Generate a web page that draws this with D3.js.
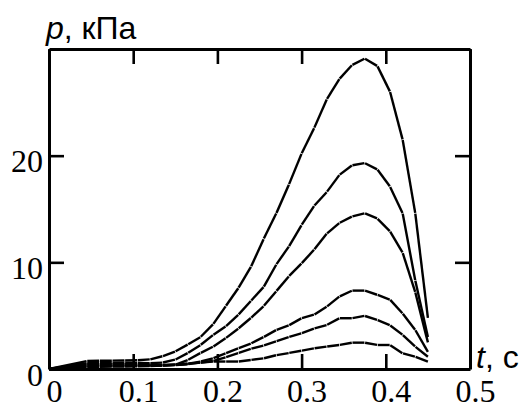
<!DOCTYPE html>
<html><head><meta charset="utf-8">
<script src="https://cdn.jsdelivr.net/npm/d3@7"></script>
<style>
html,body{margin:0;padding:0;background:#fff;}
svg{display:block;}
</style></head>
<body>
<svg id="c" width="528" height="410"></svg>
<script>
// time grid, s
const times = [0, 0.045, 0.06, 0.075, 0.09, 0.105, 0.12, 0.135, 0.15, 0.165, 0.18, 0.195, 0.21, 0.225, 0.24, 0.255, 0.27, 0.285, 0.30, 0.315, 0.33, 0.345, 0.36, 0.375, 0.39, 0.405, 0.42, 0.435, 0.45];
// pressure, kPa
const curve1 = [0, 0.75, 0.77, 0.78, 0.8, 0.82, 0.9, 1.2, 1.65, 2.3, 3.0, 4.2, 5.9, 7.6, 9.6, 12.2, 14.6, 17.3, 20.2, 22.6, 25.3, 27.2, 28.5, 29.1, 28.4, 26.0, 21.5, 14.6, 4.8];
const curve2 = [0, 0.55, 0.56, 0.57, 0.57, 0.57, 0.55, 0.6, 0.88, 1.5, 2.25, 3.2, 4.0, 5.1, 6.4, 7.7, 9.8, 11.5, 13.5, 15.3, 16.6, 18.2, 19.1, 19.3, 18.7, 17.1, 14.6, 8.3, 3.0];
const curve3 = [0, 0.45, 0.45, 0.45, 0.44, 0.43, 0.4, 0.36, 0.4, 0.85, 1.5, 2.1, 2.9, 3.8, 4.8, 5.9, 7.3, 8.7, 9.9, 11.2, 12.7, 13.7, 14.3, 14.6, 14.1, 12.9, 10.9, 7.2, 2.5];
const curve4 = [0, 0.35, 0.36, 0.37, 0.37, 0.37, 0.37, 0.38, 0.4, 0.5, 0.7, 1.0, 1.47, 1.95, 2.4, 3.0, 3.66, 4.1, 4.76, 5.1, 5.85, 6.8, 7.35, 7.35, 6.95, 6.5, 5.2, 3.66, 1.6];
const curve5 = [0, 0.25, 0.26, 0.27, 0.28, 0.29, 0.3, 0.32, 0.36, 0.45, 0.6, 0.75, 1.1, 1.5, 1.9, 2.2, 2.6, 3.0, 3.35, 3.8, 4.13, 4.76, 4.76, 4.98, 4.6, 4.1, 3.2, 2.1, 1.15];
const curve6 = [0, 0.2, 0.21, 0.22, 0.23, 0.25, 0.28, 0.33, 0.4, 0.5, 0.6, 0.7, 0.7, 0.7, 0.85, 1.0, 1.3, 1.5, 1.72, 1.94, 2.1, 2.25, 2.47, 2.47, 2.25, 2.25, 1.47, 1.15, 0.7];
const seriesList = [curve1, curve2, curve3, curve4, curve5, curve6];
const xTicks = [0, 0.1, 0.2, 0.3, 0.4, 0.5];
const xTickLabels = ["0", "0.1", "0.2", "0.3", "0.4", "0.5"];
const yTicks = [0, 10, 20];
const yTickLabels = ["0", "10", "20"];

const svg = d3.select("#c");
const L = 49, R = 470, T = 49, B = 369;
const x = d3.scaleLinear().domain([0, 0.5]).range([L, R]);
const y = d3.scaleLinear().domain([0, 30]).range([B, T]);

// curves as short segments with tiny gaps at knots
const gap = 0.35;
const g = svg.append("g");
seriesList.forEach(vals => {
  for (let i = 0; i < vals.length - 1; i++) {
    const x1 = x(times[i]), y1 = y(vals[i]), x2 = x(times[i+1]), y2 = y(vals[i+1]);
    const len = Math.hypot(x2 - x1, y2 - y1);
    const ux = (x2 - x1) / len, uy = (y2 - y1) / len;
    const s = i === 0 ? 0 : gap, e = i === vals.length - 2 ? 0 : gap;
    g.append("line")
      .attr("x1", x1 + ux * s).attr("y1", y1 + uy * s)
      .attr("x2", x2 - ux * e).attr("y2", y2 - uy * e)
      .attr("stroke", "#000").attr("stroke-width", 2.4).attr("stroke-linecap", "butt");
  }
});

function styleAxis(sel) {
  sel.select(".domain").attr("stroke", "#000").attr("stroke-width", 3);
  sel.selectAll(".tick line").attr("stroke", "#000").attr("stroke-width", 2.6);
}

const ax = svg.append("g").attr("transform", `translate(0,${B})`)
  .call(d3.axisBottom(x).tickValues(xTicks).tickSize(-15).tickSizeOuter(0).tickFormat((d, i) => xTickLabels[i]));
styleAxis(ax);
ax.selectAll(".tick text").attr("y", 33).attr("dy", 0).attr("dx", 5)
  .attr("font-family", "'Liberation Serif', 'Times New Roman', serif").attr("font-size", 32).attr("fill", "#000");

const axT = svg.append("g").attr("transform", `translate(0,${T})`)
  .call(d3.axisTop(x).tickValues(xTicks).tickSize(-15).tickSizeOuter(0).tickFormat(""));
styleAxis(axT);

const ay = svg.append("g").attr("transform", `translate(${L},0)`)
  .call(d3.axisLeft(y).tickValues(yTicks).tickSize(-15).tickSizeOuter(0).tickFormat((d, i) => yTickLabels[i]));
styleAxis(ay);
ay.selectAll(".tick text").attr("x", -6).attr("dy", 16)
  .attr("font-family", "'Liberation Serif', 'Times New Roman', serif").attr("font-size", 32).attr("fill", "#000");

const ayR = svg.append("g").attr("transform", `translate(${R},0)`)
  .call(d3.axisRight(y).tickValues(yTicks).tickSize(-15).tickSizeOuter(0).tickFormat(""));
styleAxis(ayR);

// axis titles
const yt = svg.append("text").attr("x", 46).attr("y", 39)
  .attr("font-family", "'Liberation Sans', Arial, sans-serif").attr("font-size", 32).attr("fill", "#000");
yt.append("tspan").attr("font-style", "italic").text("p");
yt.append("tspan").text(", кПа");

const xt = svg.append("text").attr("x", 476).attr("y", 368)
  .attr("font-family", "'Liberation Sans', Arial, sans-serif").attr("font-size", 32).attr("fill", "#000");
xt.append("tspan").attr("font-style", "italic").text("t");
xt.append("tspan").text(", с");
</script>
</body></html>
